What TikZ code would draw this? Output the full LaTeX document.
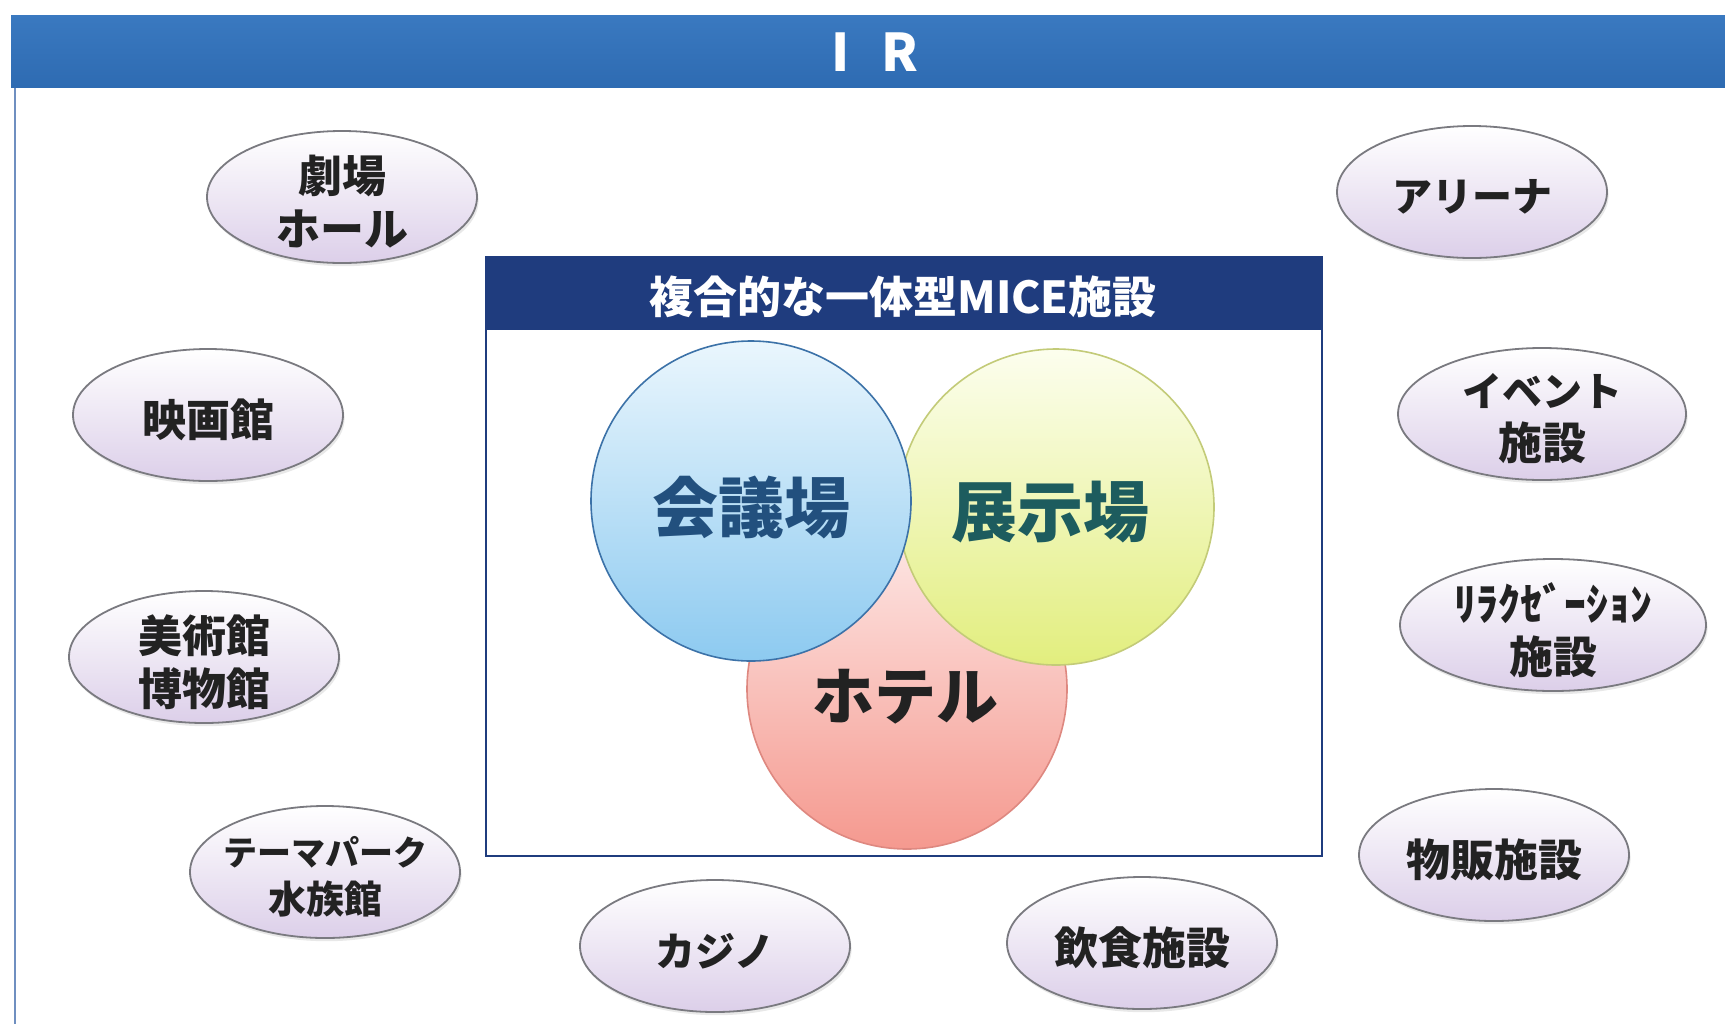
\documentclass[tikz,border=0pt]{standalone}
\usepackage{fontspec}
\setmainfont{Noto Sans CJK JP}
\usetikzlibrary{shapes.geometric,shadows}
\definecolor{barblue}{HTML}{2E6BB2}
\definecolor{barblue2}{HTML}{3A79C0}
\definecolor{navy}{HTML}{1F3C7E}
\definecolor{framel}{HTML}{6F8FC0}
\definecolor{lav}{HTML}{DCCFE9}
\definecolor{ellborder}{HTML}{7A7A80}
\definecolor{bluetop}{HTML}{EAF6FD}
\definecolor{bluebot}{HTML}{8DCAF0}
\definecolor{blueedge}{HTML}{3C72A8}
\definecolor{yeltop}{HTML}{FCFEEE}
\definecolor{yelbot}{HTML}{E2EE7E}
\definecolor{yeledge}{HTML}{C3CB78}
\definecolor{pinktop}{HTML}{FDE8E6}
\definecolor{pinkbot}{HTML}{F5998F}
\definecolor{pinkedge}{HTML}{DE8880}
\definecolor{kaigi}{HTML}{22507E}
\definecolor{tenji}{HTML}{1D5C5E}
\definecolor{txt}{HTML}{222222}
\tikzset{
  facility/.style={ellipse, draw=ellborder, line width=0.9pt, top color=white, bottom color=lav,
    minimum width=135pt, minimum height=66pt, inner sep=0pt,
    drop shadow={opacity=0.18, shadow xshift=0.8pt, shadow yshift=-1.6pt}},
  ftext/.style={align=center, text=txt, font=\bfseries\fontsize{22}{26.5}\selectfont, inner sep=0pt, yshift=-2.5pt},
  venn/.style={circle, minimum size=160pt, inner sep=0pt, line width=0.8pt},
  venntext/.style={font=\bfseries\fontsize{33}{38}\selectfont, inner sep=0pt}
}
\begin{document}
\begin{tikzpicture}[x=0.5pt,y=-0.5pt]
\useasboundingbox (0,0) rectangle (1725,1024);
\fill[white] (0,0) rectangle (1725,1024);
% outer frame
\draw[framel, line width=1.4pt] (15,86) -- (15,1024);
\shade[top color=barblue2, bottom color=barblue] (11,15) rectangle (1725,87);
\node[text=white, font=\bfseries\fontsize{26}{30}\selectfont, inner sep=0pt] (ir) at (875,52) {I\hspace{0.6em}R};
% inner box
\draw[navy, line width=1.3pt, fill=white] (486,257) rectangle (1322,856);
\fill[navy] (486,257) rectangle (1322,330);
\node[text=white, font=\bfseries\fontsize{22}{26}\selectfont, inner sep=0pt] (mice) at (903,297) {複合的な一体型MICE施設};
% venn circles
\node[venn, draw=pinkedge, top color=pinktop, bottom color=pinkbot] (hotel) at (907,689) {};
\node[venn, draw=yeledge, top color=yeltop, bottom color=yelbot, minimum size=158pt] (tenjic) at (1056,507) {};
\node[venn, draw=blueedge, top color=bluetop, bottom color=bluebot] (kaigic) at (751,501) {};
\node[venntext, text=kaigi] (kaigit) at (751,508) {会議場};
\node[venntext, text=tenji] (tenjit) at (1050,512) {展示場};
\node[venntext, text=txt, font=\bfseries\fontsize{31}{36}\selectfont] (hotelt) at (905,697) {ホテル};
% outer facilities
\node[facility] (e1) at (342,197) {};
\node[ftext] (t1) at (e1) {劇場\\ホール};
\node[facility] (e2) at (208,415) {};
\node[ftext] (t2) at (e2) {映画館};
\node[facility] (e3) at (204,657) {};
\node[ftext] (t3) at (e3) {美術館\\博物館};
\node[facility] (e4) at (325,872) {};
\node[ftext, font=\bfseries\fontsize{17}{24}\selectfont] (t4) at (e4) {テーマパーク\\{\fontsize{19}{24}\selectfont 水族館}};
\node[facility] (e5) at (715,946) {};
\node[ftext, font=\bfseries\fontsize{20}{24}\selectfont] (t5) at (e5) {カジノ};
\node[facility] (e6) at (1142,943) {};
\node[ftext] (t6) at (e6) {飲食施設};
\node[facility] (e7) at (1494,855) {};
\node[ftext] (t7) at (e7) {物販施設};
\node[facility, minimum width=153pt] (e8) at (1553,625) {};
\node[ftext] (t8) at (e8) {ﾘﾗｸｾﾞｰｼｮﾝ\\施設};
\node[facility, minimum width=144pt] (e9) at (1542,414) {};
\node[ftext] (t9) at (e9) {{\fontsize{20}{24}\selectfont イベント}\\施設};
\node[facility] (e10) at (1472,192) {};
\node[ftext, font=\bfseries\fontsize{20}{24}\selectfont] (t10) at (e10) {アリーナ};
\end{tikzpicture}
\end{document}
